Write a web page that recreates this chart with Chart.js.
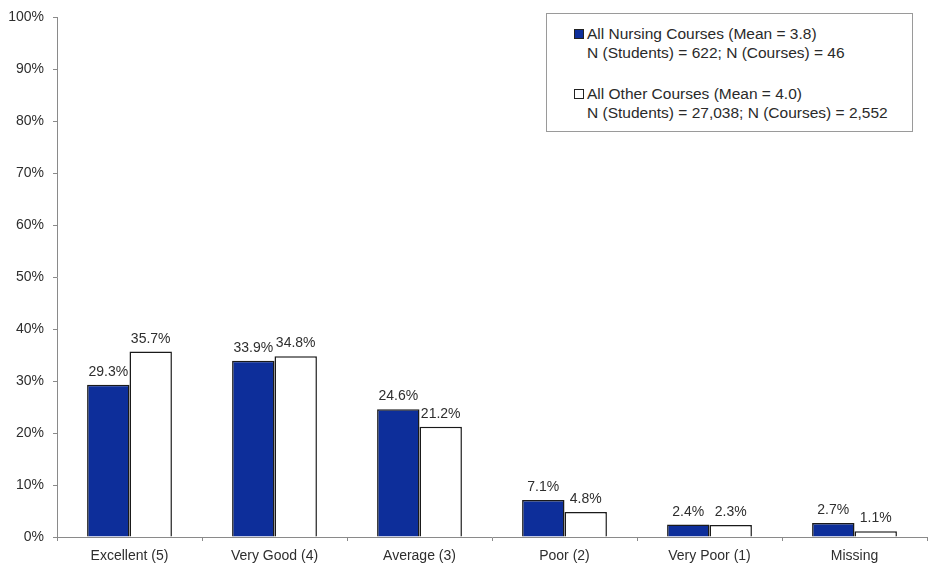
<!DOCTYPE html>
<html>
<head>
<meta charset="utf-8">
<script src="https://cdn.jsdelivr.net/npm/chart.js@4/dist/chart.umd.min.js"></script>
<style>
  html, body { margin: 0; padding: 0; background: #fff; }
  #wrap { position: relative; width: 928px; height: 571px; }
  #legend {
    position: absolute; left: 546px; top: 13px; width: 367px; height: 119px;
    border: 1px solid #9a9a9a; background: #fff;
    font-family: "Liberation Sans", Arial, sans-serif; font-size: 15.5px; color: #2a2a2a;
    box-sizing: border-box; padding: 10px 0 0 27px; line-height: 19px;
  }
  .item { margin-bottom: 22px; position: relative; padding-left: 13px; }
  .box { position: absolute; left: 0; top: 5px; width: 8px; height: 8px; border: 1px solid #222; }
</style>
</head>
<body>
<div id="wrap">
  <canvas id="chart" width="928" height="571"></canvas>
  <div id="legend"></div>
</div>
<script>
// ---------- Data ----------
const categories = ["Excellent (5)", "Very Good (4)", "Average (3)", "Poor (2)", "Very Poor (1)", "Missing"];
const nursing = [29.3, 33.9, 24.6, 7.1, 2.4, 2.7];
const other = [35.7, 34.8, 21.2, 4.8, 2.3, 1.1];
const seriesNames = ["All Nursing Courses (Mean = 3.8)", "All Other Courses (Mean = 4.0)"];
const seriesNotes = ["N (Students) = 622; N (Courses) = 46", "N (Students) = 27,038; N (Courses) = 2,552"];
const yTicks = [0, 10, 20, 30, 40, 50, 60, 70, 80, 90, 100];

const BLUE = "#0d2e9a";
const FONT = "'Liberation Sans', Arial, sans-serif";
const TEXT = "#2e2e2e";
const AXIS = "#8a8a8a";

// value labels above each bar
const barLabels = {
  id: "barLabels",
  afterDatasetsDraw(c) {
    const ctx = c.ctx;
    ctx.save();
    ctx.font = "14px " + FONT;
    ctx.fillStyle = TEXT;
    ctx.textAlign = "center";
    ctx.textBaseline = "alphabetic";
    c.data.datasets.forEach((ds, i) => {
      c.getDatasetMeta(i).data.forEach((bar, j) => {
        ctx.fillText(ds.data[j].toFixed(1) + "%", bar.x, bar.y - 9);
      });
    });
    ctx.restore();
  }
};

const ctx = document.getElementById("chart").getContext("2d");
const chart = new Chart(ctx, {
  type: "bar",
  data: {
    labels: categories,
    datasets: [
      { label: seriesNames[0], data: nursing, backgroundColor: BLUE, borderColor: "#1a1a1a", borderWidth: 1.5 },
      { label: seriesNames[1], data: other, backgroundColor: "#ffffff", borderColor: "#1a1a1a", borderWidth: 1.5 }
    ]
  },
  options: {
    responsive: false,
    animation: false,
    layout: { padding: { top: 17, right: 1, left: 0, bottom: 0 } },
    datasets: { bar: { barPercentage: 1, categoryPercentage: 0.585 } },
    plugins: { legend: { display: false }, tooltip: { enabled: false } },
    scales: {
      x: {
        grid: { drawOnChartArea: false, tickLength: 4, color: AXIS },
        border: { color: AXIS },
        ticks: { color: TEXT, font: { family: FONT, size: 14 }, padding: 7 },
        afterFit: s => { s.height = 34; }
      },
      y: {
        min: 0, max: 100,
        afterBuildTicks: s => { s.ticks = yTicks.map(v => ({ value: v })); },
        grid: { drawOnChartArea: false, tickLength: 4, color: AXIS },
        border: { color: AXIS },
        ticks: { color: TEXT, font: { family: FONT, size: 14 }, padding: 9, callback: v => v + "%" },
        afterFit: s => { s.width = 57; }
      }
    }
  },
  plugins: [barLabels]
});

// legend box
const colors = [BLUE, "#ffffff"];
document.getElementById("legend").innerHTML = seriesNames.map((name, i) =>
  `<div class="item"><span class="box" style="background:${colors[i]}"></span>${name}<br>${seriesNotes[i]}</div>`
).join("");
</script>
</body>
</html>
